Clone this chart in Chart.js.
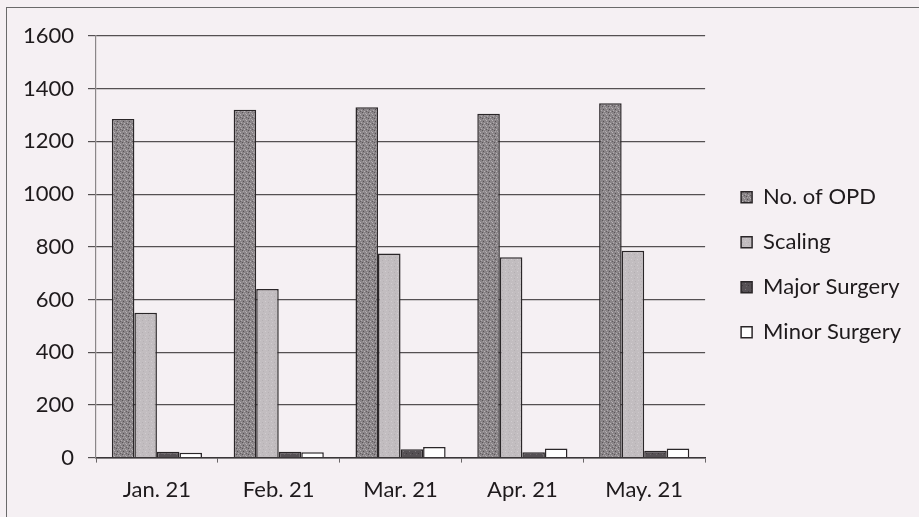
<!DOCTYPE html>
<html>
<head>
<meta charset="utf-8">
<script src="https://cdn.jsdelivr.net/npm/chart.js@4"></script>
<style>
  html, body { margin: 0; padding: 0; background: #f5f0f3; }
  #wrap { position: relative; width: 919px; height: 517px; overflow: hidden; }
  #frame { position: absolute; left: 6px; top: 7px; width: 940px; height: 540px; border: 1px solid #6a6a6a; }
  canvas { position: absolute; left: 0; top: 0; }
</style>
</head>
<body>
<div id="wrap">
  <div id="frame"></div>
  <canvas id="opdChart" width="919" height="517"></canvas>
</div>
<script>
// Months on the x axis
const months = ["Jan. 21", "Feb. 21", "Mar. 21", "Apr. 21", "May. 21"];

// Series values
const opdCounts = [1285, 1320, 1330, 1305, 1345];
const scalingCounts = [550, 640, 775, 760, 785];
const majorSurgery = [22, 22, 32, 20, 26];
const minorSurgery = [18, 20, 40, 35, 35];

// Y axis ticks
const yTicks = [0, 200, 400, 600, 800, 1000, 1200, 1400, 1600];

// Small texture tiles to mimic the printed bar fills
function makePattern(base, dots) {
    const tile = document.createElement('canvas');
    tile.width = 6;
    tile.height = 6;
    const t = tile.getContext('2d');
    t.fillStyle = base;
    t.fillRect(0, 0, 6, 6);
    dots.forEach(d => {
        t.fillStyle = d[2];
        t.fillRect(d[0], d[1], 1, 1);
    });
    return t.createPattern(tile, 'repeat');
}

const ctx = document.getElementById('opdChart').getContext('2d');

const opdFill = makePattern('#8a8588', [
    [0, 0, '#b8b3b6'], [3, 1, '#555053'], [1, 2, '#b0abae'], [4, 3, '#b8b3b6'],
    [2, 4, '#5a5558'], [5, 5, '#aca7aa'], [0, 3, '#625d60'], [3, 5, '#a8a3a6']
]);
const scalingFill = makePattern('#c2bdc0', [
    [1, 1, '#d2cdd0'], [4, 2, '#b3aeb1'], [2, 4, '#cdc8cb'], [5, 5, '#b6b1b4']
]);
const majorFill = makePattern('#555054', [
    [1, 1, '#7a7579'], [4, 3, '#3e393c'], [2, 4, '#6c6769']
]);

const textColor = '#1e1a1c';

const config = {
    type: 'bar',
    data: {
        labels: months,
        datasets: [
            { label: 'No. of OPD', data: opdCounts, backgroundColor: opdFill },
            { label: 'Scaling', data: scalingCounts, backgroundColor: scalingFill },
            { label: 'Major Surgery', data: majorSurgery, backgroundColor: majorFill },
            { label: 'Minor Surgery', data: minorSurgery, backgroundColor: '#ffffff' }
        ]
    },
    options: {
        responsive: false,
        animation: false,
        devicePixelRatio: 1,
        datasets: {
            bar: {
                categoryPercentage: 0.74,
                barPercentage: 1.0,
                borderColor: '#2a2628',
                borderWidth: 1.5
            }
        },
        layout: {
            padding: { top: 36, bottom: 0, left: 0, right: 8 }
        },
        plugins: {
            legend: {
                position: 'right',
                align: 'center',
                fullSize: false,
                maxWidth: 260,
                // empty title only nudges the items down a little
                title: {
                    display: true,
                    text: '',
                    padding: 12,
                    font: { size: 10 }
                },
                labels: {
                    boxWidth: 11,
                    boxHeight: 11,
                    padding: 23,
                    color: textColor,
                    font: { family: 'Lato', size: 22 }
                }
            },
            tooltip: { enabled: false }
        },
        scales: {
            x: {
                grid: {
                    drawOnChartArea: false,
                    drawTicks: true,
                    tickLength: 5,
                    color: '#6a6668'
                },
                border: { color: '#3a3638', width: 1.5 },
                ticks: {
                    color: textColor,
                    padding: 14,
                    font: { family: 'Lato', size: 22 }
                }
            },
            y: {
                min: 0,
                max: 1600,
                afterBuildTicks: function (scale) {
                    scale.ticks = yTicks.map(v => ({ value: v }));
                },
                afterFit: function (scale) {
                    scale.width = 96; // room for tick labels
                },
                grid: {
                    color: '#545052',
                    lineWidth: 1.2,
                    tickLength: 8
                },
                border: { color: '#8a8688', width: 1.2 },
                ticks: {
                    color: textColor,
                    padding: 14,
                    font: { family: 'Lato', size: 22 },
                    callback: function (value) {
                        return String(value); // no thousands separator
                    }
                }
            },
            // empty spacer between the plot and the legend
            gap: {
                position: 'right',
                display: true,
                grid: { display: false },
                border: { display: false },
                ticks: { display: false },
                afterFit: function (scale) {
                    scale.width = 13;
                }
            }
        }
    }
};

const opdChart = new Chart(ctx, config);
</script>
</body>
</html>
